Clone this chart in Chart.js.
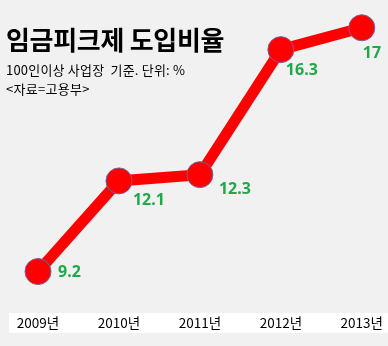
<!DOCTYPE html>
<html>
<head>
<meta charset="utf-8">
<script src="https://cdn.jsdelivr.net/npm/chart.js@4/dist/chart.umd.min.js"></script>
<style>
  body { margin: 0; background: #f1f1f1; }
  #wrap { position: relative; width: 388px; height: 346px; background: #f1f1f1; overflow: hidden; }
  #wrap canvas { position: absolute; left: 0; top: 0; }
  .txt { position: absolute; left: 6px; font-family: "Noto Sans CJK KR", sans-serif; color: #000; white-space: nowrap; line-height: 1; }
  #title { top: 26px; font-size: 26px; font-weight: bold; letter-spacing: -0.3px; }
  #sub { top: 63px; font-size: 13px; letter-spacing: 0.2px; }
  #src { top: 82px; font-size: 13px; letter-spacing: 0.3px; }
</style>
</head>
<body>
<div id="wrap">
  <canvas id="rate-chart"></canvas>
  <div class="txt" id="title">임금피크제 도입비율</div>
  <div class="txt" id="sub">100인이상 사업장&nbsp; 기준. 단위: %</div>
  <div class="txt" id="src">&lt;자료=고용부&gt;</div>
</div>
<script>
const years = ["2009년", "2010년", "2011년", "2012년", "2013년"];
const rates = [9.2, 12.1, 12.3, 16.3, 17];

// where each value label sits relative to its point
const labelNudge = [[20, 1], [14, 20], [19, 15], [5, 21], [1, 26]];

var rateCanvas = document.getElementById("rate-chart");

// white strip behind the year labels
const yearBand = {
  id: "yearBand",
  beforeDraw(chart) {
    const ctx = chart.ctx;
    ctx.save();
    ctx.fillStyle = "#ffffff";
    ctx.fillRect(9, 313, 379, 20);
    ctx.restore();
  }
};

// green value labels next to the points
const valueLabels = {
  id: "valueLabels",
  afterDatasetsDraw(chart) {
    const ctx = chart.ctx;
    const meta = chart.getDatasetMeta(0);
    ctx.save();
    ctx.font = "bold 16px 'Noto Sans', sans-serif";
    ctx.fillStyle = "#1fa84c";
    ctx.textAlign = "left";
    ctx.textBaseline = "middle";
    meta.data.forEach(function (pt, i) {
      const v = chart.data.datasets[0].data[i];
      ctx.fillText(String(v), pt.x + labelNudge[i][0], pt.y + labelNudge[i][1]);
    });
    ctx.restore();
  }
};

const rateChart = new Chart(rateCanvas, {
  type: "line",
  data: {
    labels: years,
    datasets: [{
      data: rates,
      borderColor: "#ff0000",
      borderWidth: 11,
      backgroundColor: "#ff0000",
      pointRadius: 13,
      pointHoverRadius: 13,
      pointBackgroundColor: "#ff0000",
      pointBorderColor: "#7a5f9a",
      pointBorderWidth: 1,
      tension: 0,
      clip: false
    }]
  },
  options: {
    responsive: true,
    maintainAspectRatio: false,
    animation: false,
    layout: {
      padding: { left: 38, right: 26, top: 10, bottom: 12 }
    },
    scales: {
      x: {
        offset: false,
        grid: { display: false, drawTicks: false },
        border: { display: false },
        ticks: {
          color: "#000",
          padding: 5,
          maxRotation: 0,
          autoSkip: false,
          font: { family: "'Noto Sans CJK KR', sans-serif", size: 13.5 }
        },
        // fixed axis height keeps the plot bottom at y=310
        afterFit(scale) {
          scale.height = 24;
        }
      },
      y: {
        display: false,
        min: 7.97,
        max: 17.44
      }
    },
    plugins: {
      legend: { display: false },
      tooltip: { enabled: false }
    }
  },
  plugins: [yearBand, valueLabels]
});
</script>
</body>
</html>
